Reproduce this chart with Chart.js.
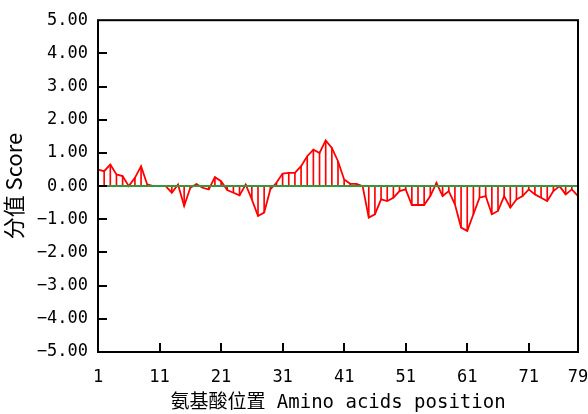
<!DOCTYPE html>
<html>
<head>
<meta charset="utf-8">
<script src="https://cdn.jsdelivr.net/npm/chart.js"></script>
<style>
  html, body { margin: 0; padding: 0; background: #fff; }
  #wrap { width: 588px; height: 414px; }
</style>
</head>
<body>
<div id="wrap"><canvas id="score-chart" width="588" height="414"></canvas></div>
<script>
// residue positions and score values
const positions = Array.from({ length: 79 }, (_, i) => i + 1);
const scores = [
    0.5, 0.45, 0.65, 0.35, 0.3, 0.0, 0.25, 0.6, 0.05, 0.0,
    0.0, 0.0, -0.2, 0.05, -0.6, -0.05, 0.06, -0.05, -0.1, 0.27,
    0.15, -0.12, -0.2, -0.28, 0.05, -0.4, -0.9, -0.8, -0.1, 0.1,
    0.38, 0.4, 0.4, 0.6, 0.9, 1.1, 1.0, 1.38, 1.15, 0.75,
    0.2, 0.07, 0.07, 0.0, -0.95, -0.85, -0.4, -0.45, -0.35, -0.15,
    -0.1, -0.57, -0.57, -0.57, -0.3, 0.1, -0.3, -0.15, -0.55, -1.25,
    -1.35, -0.85, -0.35, -0.3, -0.85, -0.75, -0.3, -0.65, -0.4, -0.3,
    -0.1, -0.25, -0.35, -0.45, -0.15, 0.0, -0.25, -0.1, -0.3
];
const xTicks = [1, 11, 21, 31, 41, 51, 61, 71, 79];
const yTicks = [-5, -4, -3, -2, -1, 0, 1, 2, 3, 4, 5];

const points = positions.map((p, i) => ({ x: p, y: scores[i] }));
const MONO = '"DejaVu Sans Mono", "Noto Sans CJK SC", monospace';

// frame box and inward tick marks
const framePlugin = {
    id: 'frame',
    afterDraw(chart) {
        const { ctx, chartArea: a, scales } = chart;
        ctx.save();
        ctx.strokeStyle = '#000';
        ctx.lineWidth = 2;
        ctx.strokeRect(a.left, a.top, a.right - a.left, a.bottom - a.top);
        ctx.beginPath();
        yTicks.forEach(v => {
            if (v === -5 || v === 5) return;
            const y = Math.round(scales.y.getPixelForValue(v));
            ctx.moveTo(a.left, y);
            ctx.lineTo(a.left + 9, y);
        });
        xTicks.forEach(v => {
            if (v === 1 || v === 79) return;
            const x = Math.round(scales.x.getPixelForValue(v));
            ctx.moveTo(x, a.bottom);
            ctx.lineTo(x, a.bottom - 9);
        });
        ctx.stroke();
        ctx.restore();
    }
};

new Chart(document.getElementById('score-chart'), {
    data: {
        datasets: [
            {
                type: 'line',
                data: [{ x: 1, y: 0 }, { x: 79, y: 0 }],
                borderColor: '#2e9a3c',
                borderWidth: 2,
                pointRadius: 0,
                order: 0
            },
            {
                type: 'line',
                data: points,
                borderColor: '#ff0000',
                borderWidth: 1.8,
                pointRadius: 0,
                tension: 0,
                order: 1
            },
            {
                type: 'bar',
                data: points,
                backgroundColor: '#ff0000',
                barThickness: 1,
                order: 2
            }
        ]
    },
    options: {
        responsive: false,
        animation: false,
        layout: { padding: { top: 19, right: 10, left: 0, bottom: 0 } },
        plugins: { legend: { display: false }, tooltip: { enabled: false } },
        scales: {
            x: {
                type: 'linear',
                min: 1,
                max: 79,
                offset: false,
                afterBuildTicks: s => { s.ticks = xTicks.map(v => ({ value: v })); },
                afterFit: s => { s.height = 62; s.paddingLeft = 0; s.paddingRight = 0; },
                grid: { display: false, drawTicks: false },
                border: { display: false },
                ticks: {
                    color: '#000',
                    font: { family: MONO, size: 17 },
                    padding: 15,
                    maxRotation: 0,
                    autoSkip: false
                },
                title: {
                    display: true,
                    text: '氨基酸位置 Amino acids position',
                    color: '#000',
                    font: { family: MONO, size: 19 },
                    padding: { top: 0, bottom: 0 }
                }
            },
            y: {
                min: -5,
                max: 5,
                afterBuildTicks: s => { s.ticks = yTicks.map(v => ({ value: v })); },
                afterFit: s => { s.width = 98; },
                grid: { display: false, drawTicks: false },
                border: { display: false },
                ticks: {
                    color: '#000',
                    font: { family: MONO, size: 17 },
                    padding: 10,
                    callback: v => v.toFixed(2).replace('-', '\u2212')
                },
                title: {
                    display: true,
                    text: '分值 Score',
                    color: '#000',
                    font: { family: '"Noto Sans CJK SC", sans-serif', size: 22 },
                    padding: { top: 0, bottom: 3 }
                }
            }
        }
    },
    plugins: [framePlugin]
});
</script>
</body>
</html>
